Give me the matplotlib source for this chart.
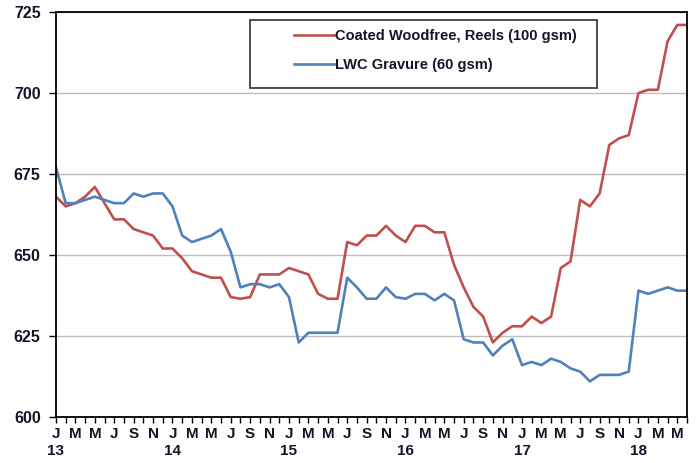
import matplotlib
matplotlib.use('Agg')
import matplotlib.pyplot as plt
from matplotlib.patches import Rectangle
import numpy as np

plt.rcParams['font.family'] = ['Liberation Sans', 'DejaVu Sans']
plt.rcParams['font.weight'] = 'bold'

# monthly prices, Jan 2013 .. Jun 2018
months = ['J', 'F', 'M', 'A', 'M', 'J', 'J', 'A', 'S', 'O', 'N', 'D']
years = ['13', '14', '15', '16', '17', '18']

woodfree = [668, 665, 666, 668, 671, 666, 661, 661, 658, 657, 656, 652,
            652, 649, 645, 644, 643, 643, 637, 636.5, 637, 644, 644, 644,
            646, 645, 644, 638, 636.5, 636.5, 654, 653, 656, 656, 659, 656,
            654, 659, 659, 657, 657, 647, 640, 634, 631, 623, 626, 628,
            628, 631, 629, 631, 646, 648, 667, 665, 669, 684, 686, 687,
            700, 701, 701, 716, 721, 721]
lwc = [677, 666, 666, 667, 668, 667, 666, 666, 669, 668, 669, 669,
       665, 656, 654, 655, 656, 658, 651, 640, 641, 641, 640, 641,
       637, 623, 626, 626, 626, 626, 643, 640, 636.5, 636.5, 640, 637,
       636.5, 638, 638, 636, 638, 636, 624, 623, 623, 619, 622, 624,
       616, 617, 616, 618, 617, 615, 614, 611, 613, 613, 613, 614,
       639, 638, 639, 640, 639, 639]

n = len(woodfree)
x = np.arange(n)
labels = []
for i in range(n):
    m = months[i % 12]
    if i % 2 == 1:
        labels.append('')
    elif i % 12 == 0:
        labels.append(m + '\n' + years[i // 12])
    else:
        labels.append(m)

txt = '#15152a'
fig = plt.figure(figsize=(6.99, 4.63), dpi=100)
ax = fig.add_axes([56 / 699, 46 / 463, 631 / 699, 405 / 463])

ax.plot(x, woodfree, color='#C0504D', lw=1.9, label='Coated Woodfree, Reels (100 gsm)')
ax.plot(x, lwc, color='#4F81BD', lw=1.9, label='LWC Gravure (60 gsm)')

ax.set_xlim(0, n - 1)
ax.set_ylim(600, 725)
ax.set_yticks([600, 625, 650, 675, 700, 725])
ax.yaxis.grid(True, color='#BEBEBE', lw=1)
ax.set_axisbelow(True)

ax.set_xticks(x)
ax.set_xticklabels(labels, fontsize=11, fontweight='bold', color=txt, linespacing=1.3)
ax.tick_params(axis='x', direction='out', length=4, width=1, pad=3, colors='black', labelcolor=txt)
ax.tick_params(axis='y', direction='out', length=5, width=1, pad=6, labelsize=11.5, labelcolor=txt)
for t in ax.get_yticklabels():
    t.set_fontweight('bold')

for s in ax.spines.values():
    s.set_color('black')
    s.set_linewidth(1.3)

# legend box
ax.add_patch(Rectangle((0.307, 0.812), 0.55, 0.168, transform=ax.transAxes,
                       fill=True, facecolor='white', edgecolor='#404040', lw=1.3, zorder=5))
leg = ax.legend(loc='upper left', bbox_to_anchor=(0.356, 0.99), frameon=False,
                fontsize=10.5, handlelength=2.8, handletextpad=0.05, labelspacing=1.05,
                borderpad=0.4)
leg.set_zorder(6)
for t in leg.get_texts():
    t.set_color(txt)
    t.set_fontweight('bold')

fig.savefig('out.png', dpi=100)
